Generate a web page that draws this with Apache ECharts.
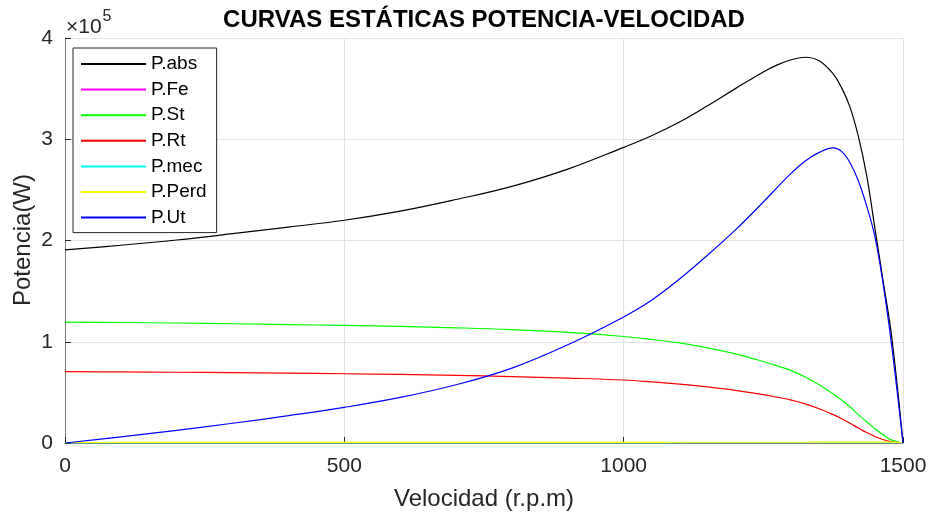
<!DOCTYPE html>
<html>
<head>
<meta charset="utf-8">
<script src="https://cdn.jsdelivr.net/npm/echarts@6/dist/echarts.min.js"></script>
<style>
  html, body { margin: 0; padding: 0; background: #fff; }
  #chart { width: 931px; height: 519px; }
</style>
</head>
<body>
<div id="chart"></div>
<script>
// Speed samples (r.p.m)
var speed = [0, 100, 200, 300, 400, 500, 600, 700, 800, 900, 1000, 1050, 1100, 1150,
             1200, 1250, 1275, 1300, 1325, 1350, 1375, 1390, 1405, 1420, 1435, 1450,
             1465, 1480, 1500];

// Power values (W) at each speed sample
var pAbs  = [190800, 195300, 200500, 206700, 213300, 220000, 229000, 240500, 253500, 270500,
             292000, 303500, 317000, 333000, 350000, 366500, 373500, 378500, 381000, 377500,
             364500, 351000, 332000, 303000, 264000, 211000, 158000, 104000, 0];
var pFe   = [500, 500, 500, 500, 500, 500, 500, 500, 500, 500, 500, 500, 500, 500,
             500, 500, 500, 500, 500, 500, 500, 500, 500, 500, 500, 500, 500, 500, 0];
var pSt   = [119400, 119000, 118500, 117800, 117000, 116100, 115100, 113800, 112000, 109200,
             105200, 102300, 98800, 94000, 88000, 80500, 76200, 71500, 65200, 57500,
             48500, 42500, 35800, 28000, 21000, 14000, 7800, 2800, 0];
var pRt   = [70400, 70200, 69900, 69500, 69000, 68400, 67700, 66800, 65600, 64100,
             62200, 60400, 58200, 55400, 52000, 47800, 45200, 42400, 38700, 33800,
             28000, 24000, 19500, 14800, 10300, 6400, 3200, 1100, 0];
var pMec  = [0, 20, 40, 60, 80, 100, 120, 140, 160, 180, 200, 210, 220, 230,
             240, 250, 255, 260, 265, 270, 275, 278, 281, 284, 287, 290, 293, 296, 0];
var pPerd = [500, 520, 540, 560, 580, 600, 620, 640, 660, 680, 700, 710, 720, 730,
             740, 750, 755, 760, 765, 770, 775, 778, 781, 784, 787, 790, 793, 796, 0];
var pUt   = [0, 6000, 12500, 19500, 27000, 35200, 45000, 57500, 74000, 97000,
             124500, 141000, 162000, 185500, 210500, 238000, 252500, 266500, 278500, 287000,
             291500, 288000, 277000, 259000, 234000, 203000, 155000, 95000, 0];

var seriesNames  = ['P.abs', 'P.Fe', 'P.St', 'P.Rt', 'P.mec', 'P.Perd', 'P.Ut'];
var seriesValues = [pAbs, pFe, pSt, pRt, pMec, pPerd, pUt];
var seriesColors = ['#000000', '#ff00ff', '#00ff00', '#ff0000', '#00ffff', '#ffff00', '#0000ff'];

var yTicks = [0, 100000, 200000, 300000, 400000];
var xTicks = [0, 500, 1000, 1500];

var FONT = "'Liberation Sans', Arial, Helvetica, sans-serif";
var AXIS_COLOR = '#262626';

function pairs(values) {
  return speed.map(function (s, i) { return [s, values[i]]; });
}

var chart = echarts.init(document.getElementById('chart'), null, { renderer: 'canvas' });

chart.setOption({
  animation: false,
  backgroundColor: '#ffffff',
  textStyle: { fontFamily: FONT },
  grid: { left: 65, right: 28, top: 38, bottom: 76, containLabel: false },
  graphic: [
    {
      type: 'text', x: 484, y: 20,
      style: {
        text: 'CURVAS ESTÁTICAS POTENCIA-VELOCIDAD',
        font: 'bold 24px ' + FONT, fill: '#000',
        textAlign: 'center', textVerticalAlign: 'middle'
      }
    },
    {
      type: 'text', x: 66, y: 20,
      style: {
        text: '{b|×10}{s|5}',
        fill: AXIS_COLOR,
        textVerticalAlign: 'middle',
        rich: {
          b: { fontSize: 21, fontFamily: FONT, fill: AXIS_COLOR, padding: [14, 0, 0, 0] },
          s: { fontSize: 16, fontFamily: FONT, fill: AXIS_COLOR, padding: [0, 0, 6, 1] }
        }
      }
    },
    {
      // vertical axis title
      type: 'text', x: 23, y: 240, rotation: Math.PI / 2,
      style: {
        text: 'Potencia(W)',
        font: '24px ' + FONT, fill: AXIS_COLOR,
        textAlign: 'center', textVerticalAlign: 'middle'
      }
    }
  ],
  legend: {
    orient: 'vertical',
    left: 73, top: 48,
    padding: [6, 10, 5, 7],
    itemWidth: 65, itemHeight: 20, itemGap: 5.6,
    backgroundColor: '#ffffff',
    borderColor: AXIS_COLOR, borderWidth: 1,
    itemStyle: { opacity: 0, borderWidth: 0 },
    textStyle: { fontSize: 19, fontFamily: FONT, color: '#000', lineHeight: 20 },
    data: seriesNames
  },
  xAxis: {
    type: 'value', min: 0, max: 1500, interval: 500,
    name: 'Velocidad (r.p.m)', nameLocation: 'middle', nameGap: 44,
    nameTextStyle: { fontSize: 24, color: AXIS_COLOR, fontFamily: FONT },
    axisLine: { show: true, onZero: false, lineStyle: { color: '#7a7a7a', width: 1 } },
    axisTick: { show: true, inside: true, length: 6, lineStyle: { color: AXIS_COLOR } },
    axisLabel: {
      fontSize: 21, color: AXIS_COLOR, margin: 13, fontFamily: FONT,
      formatter: function (v) { return xTicks.indexOf(v) >= 0 ? String(v) : ''; }
    },
    splitLine: { show: true, lineStyle: { color: '#e3e3e3', width: 1 } }
  },
  yAxis: {
    type: 'value', min: 0, max: 400000, interval: 100000,
    axisLine: { show: true, onZero: false, lineStyle: { color: '#7a7a7a', width: 1 } },
    axisTick: { show: true, inside: true, length: 6, lineStyle: { color: AXIS_COLOR } },
    axisLabel: {
      fontSize: 21, color: AXIS_COLOR, margin: 12, fontFamily: FONT,
      formatter: function (v) { return yTicks.indexOf(v) >= 0 ? String(v / 100000) : ''; }
    },
    splitLine: { show: true, lineStyle: { color: '#e3e3e3', width: 1 } }
  },
  series: seriesNames.map(function (name, i) {
    return {
      name: name,
      type: 'line',
      data: pairs(seriesValues[i]),
      symbol: 'none',
      smooth: 0.4,
      color: seriesColors[i],
      lineStyle: { color: seriesColors[i], width: 1.2 },
      z: 2 + i
    };
  })
});
</script>
</body>
</html>
